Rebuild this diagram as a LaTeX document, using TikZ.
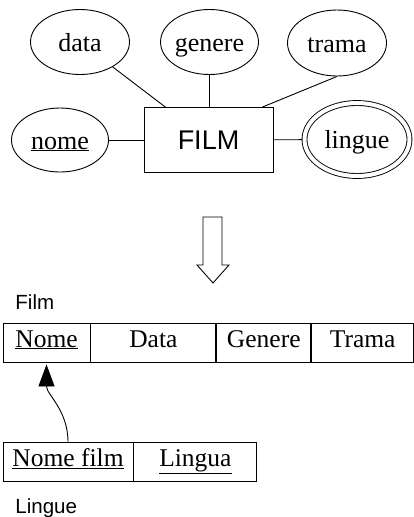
\documentclass[tikz,border=0pt]{standalone}
\usepackage{fontspec}
\setmainfont{Liberation Serif}
\newfontfamily\arialfont{Liberation Sans}
\usetikzlibrary{positioning}
\usetikzlibrary{shapes.geometric,arrows.meta}

\tikzset{
  attr/.style={ellipse,draw,inner sep=0pt,text height=18pt,text depth=0pt,font=\fontsize{26}{26}\selectfont},
  cell/.style={rectangle,draw,inner sep=0pt,minimum height=39pt,text height=17pt,text depth=8pt,font=\fontsize{25.5}{25.5}\selectfont},
  tablename/.style={anchor=base west,inner sep=0pt,font=\arialfont\fontsize{20.5}{20.5}\selectfont},
}

\begin{document}
\begin{tikzpicture}[x=1pt,y=-1pt,line width=0.9pt]
\useasboundingbox (0,0) rectangle (414,517);

% E-R schema

\node[rectangle,draw,minimum width=129pt,minimum height=65pt,font=\arialfont\fontsize{27}{27}\selectfont] (film) at (208.5,140) {FILM};

\node[attr,minimum width=99pt,minimum height=65pt] (data) at (80,42) {data};

\node[attr,minimum width=95pt,minimum height=65pt] (genere) at (209.5,42) {genere};

\node[attr,minimum width=99pt,minimum height=66pt] (trama) at (337,43) {trama};

\node[attr,minimum width=97pt,minimum height=64pt] (nome) at (60,140) {\underline{nome}};

\node[attr,double,double distance=4pt,outer sep=2.6pt,minimum width=105pt,minimum height=73pt] (lingue) at (357,139.5) {lingue};

\draw (data) -- (film);
\draw (genere.south) -- (genere.south |- film.north);
\draw (trama.south) -- ([xshift=-11pt]film.north east);
\draw (nome) -- (film);
\draw (film) -- (lingue);

% translation

\draw (203,217) -- (222,217) -- (222,265) -- (229,265) -- (213,283)
      -- (197,265) -- (203,265) -- cycle;

% Relational schema

\node[tablename] (filmname) at (15,309) {Film};

\node[cell,minimum width=87pt] (nomecell) at (46.5,342.5) {\underline{Nome}};

\node[right=0pt of nomecell, cell,minimum width=125pt] (datacell) {Data};

\node[right=0pt of datacell, cell,minimum width=94pt] (generecell) {Genere};

\node[right=0pt of generecell, cell,minimum width=102pt] (tramacell) {Trama};


\node[cell,minimum width=130pt] (nomefilm) at (68,462) {\underline{Nome film}};

\node[right=0pt of nomefilm, cell,minimum width=123pt] (lingua) {\underline{Lingua}};

\node[tablename] (linguename) at (15,513) {Lingue};

\draw[-{Triangle[length=22pt,width=16pt]},shorten >=2pt] (nomefilm.north) to[out=90,in=-90] (nomecell.south);

\end{tikzpicture}
\end{document}
